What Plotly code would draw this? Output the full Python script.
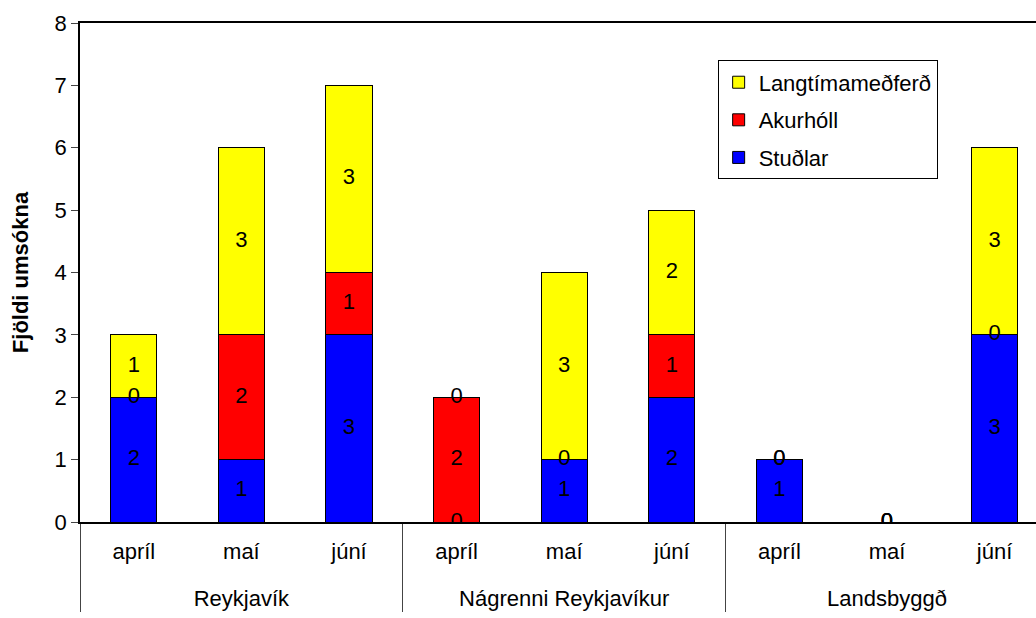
import plotly.graph_objects as go

groups = ["Reykjavík", "Nágrenni Reykjavíkur", "Landsbyggð"]
months = ["apríl", "maí", "júní"]
studlar = [2, 1, 3, 0, 1, 2, 1, 0, 3]
akurholl = [0, 2, 1, 2, 0, 1, 0, 0, 0]
langtima = [1, 3, 3, 0, 3, 2, 0, 0, 3]
series_names = ["Stuðlar", "Akurhóll", "Langtímameðferð"]
series_colors = ["#0000FF", "#FF0000", "#FFFF00"]

# group labels pushed onto a second line so they sit lower, as in the original
group_labels = ["<br>" + g for g in groups]
xg = [g for g in group_labels for _ in months]
xm = [m for _ in groups for m in months]
x = [xg, xm]

FONT = "Liberation Sans, Arial, sans-serif"
FS = 22
fig = go.Figure()
series = [studlar, akurholl, langtima]
for i, (name, vals, col) in enumerate(zip(series_names, series, series_colors)):
    fig.add_trace(go.Bar(
        x=x, y=vals, name=name, marker=dict(color=col, line=dict(color="black", width=1)),
        legendgroup=name, legendrank=3 - i,
    ))

# data labels at segment centres (zero segments sit on the boundary)
lx_g, lx_m, ly, lt = [], [], [], []
base = [0] * len(studlar)
for vals in series:
    for j, v in enumerate(vals):
        lx_g.append(xg[j]); lx_m.append(xm[j])
        ly.append(base[j] + v / 2)
        lt.append(str(v))
    base = [b + v for b, v in zip(base, vals)]
fig.add_trace(go.Scatter(
    x=[lx_g, lx_m], y=ly, text=lt, mode="text", showlegend=False,
    textfont=dict(family=FONT, size=FS, color="black"), hoverinfo="skip",
))

fig.update_layout(
    width=1036, height=618,
    margin=dict(l=80, r=0, t=23, b=96),
    barmode="stack", bargap=0.57,
    plot_bgcolor="white", paper_bgcolor="white",
    font=dict(family=FONT, size=FS, color="black"),
    showlegend=True,
    legend=dict(
        x=0.667, y=0.925, xanchor="left", yanchor="top",
        traceorder="grouped", tracegroupgap=6,
        bordercolor="black", borderwidth=1, bgcolor="white",
        font=dict(family=FONT, size=FS), itemwidth=30,
    ),
)
fig.update_xaxes(
    type="multicategory", showline=True, linecolor="black", linewidth=1.5, mirror=True,
    range=[-0.5, 8.385],
    ticks="", showdividers=True, dividercolor="#444", dividerwidth=1,
    tickfont=dict(family=FONT, size=FS), automargin=False, ticklabelstandoff=9,
)
fig.update_yaxes(
    range=[0, 8], dtick=1, showgrid=False, zeroline=False,
    showline=True, linecolor="black", linewidth=1.5, mirror=False,
    ticks="outside", ticklen=7, tickcolor="#444",
    tickfont=dict(family=FONT, size=FS), automargin=False,
    title=dict(text="<b>Fjöldi umsókna</b>", font=dict(family=FONT, size=FS), standoff=20),
)
fig.write_html("out.html", config={"displayModeBar": False},
               post_script="document.body.style.margin='0';")
